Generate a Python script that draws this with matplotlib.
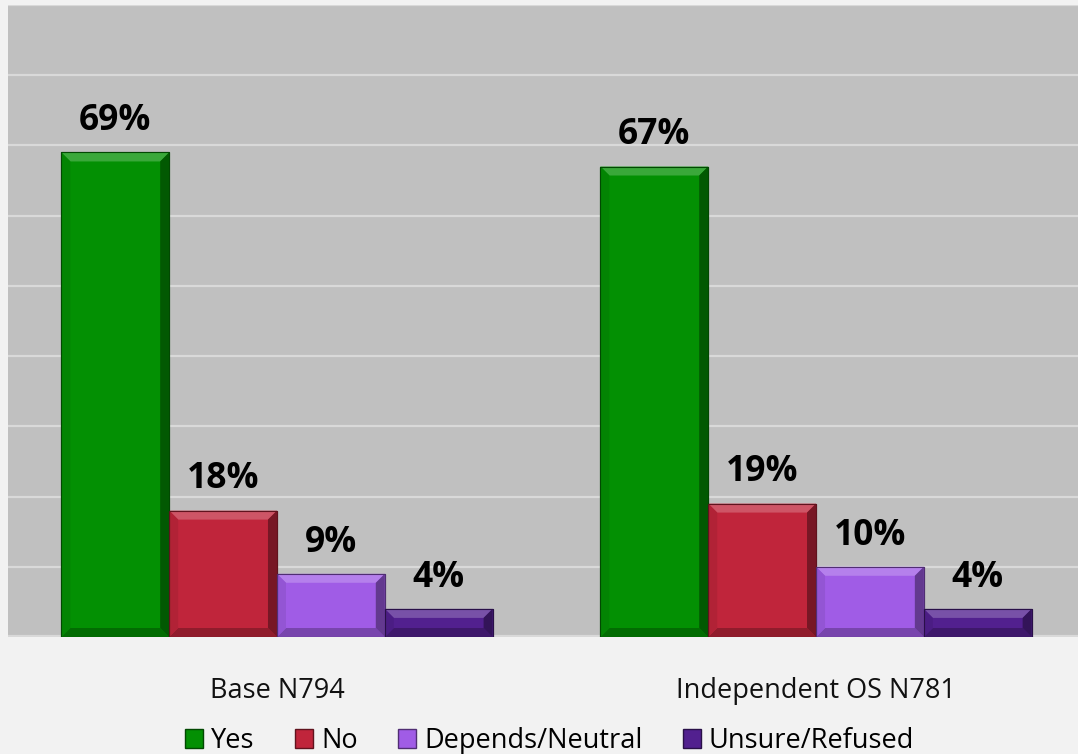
import matplotlib
matplotlib.use("Agg")
import matplotlib.pyplot as plt
from matplotlib.patches import Polygon, Rectangle
from matplotlib.colors import to_rgb
import numpy as np

plt.rcParams['font.family'] = ['Open Sans', 'DejaVu Sans']

categories = ["Base N794", "Independent OS N781"]
series_names = ["Yes", "No", "Depends/Neutral", "Unsure/Refused"]
yes_vals = [69, 67]
no_vals = [18, 19]
depends_vals = [9, 10]
unsure_vals = [4, 4]
series_values = [yes_vals, no_vals, depends_vals, unsure_vals]
colors = ["#039003", "#c0253b", "#a05ce6", "#52208f"]

W, H, DPI = 1078, 754, 100
fig = plt.figure(figsize=(W / DPI, H / DPI), dpi=DPI, facecolor="#f2f2f2")
ax_l, ax_b = 8 / W, (H - 637) / H
ax_w, ax_h = 1 - ax_l, (637 - 5) / H
ax = fig.add_axes([ax_l, ax_b, ax_w, ax_h])
ax.set_facecolor("#c0c0c0")
xlim = (-0.499, 1.486)
ylim = (0, 90)
ax.set_xlim(*xlim)
ax.set_ylim(*ylim)

for s in ax.spines.values():
    s.set_visible(False)
ax.set_yticks(np.arange(10, 91, 10))
ax.yaxis.grid(True, color="#d9d9d9", linewidth=1.6)
ax.set_axisbelow(True)
ax.tick_params(axis="y", left=False, labelleft=False)
ax.axhline(0, color="#d9d9d9", linewidth=3, zorder=1)

px_x = ax_w * W / (xlim[1] - xlim[0])
px_y = ax_h * H / (ylim[1] - ylim[0])
bev = 9.0
dx, dy = bev / px_x, bev / px_y


def mix(c, other, t):
    c = np.array(to_rgb(c)); o = np.array(to_rgb(other))
    return tuple(c * (1 - t) + o * t)


x = np.arange(len(categories))
bw = 0.2
for i, (name, vals, col) in enumerate(zip(series_names, series_values, colors)):
    pos = x + (i - 1.5) * bw
    bars = ax.bar(pos, vals, width=bw, color=col, edgecolor=mix(col, "black", 0.5),
                  linewidth=0.8, label=name, zorder=3)
    for b, v in zip(bars, vals):
        x0, y0 = b.get_x(), b.get_y()
        x1, y1 = x0 + b.get_width(), y0 + b.get_height()
        ddy = min(dy, (y1 - y0) / 2.2)
        polys = [
            ([(x0, y1), (x1, y1), (x1 - dx, y1 - ddy), (x0 + dx, y1 - ddy)], mix(col, "white", 0.22)),
            ([(x0, y0), (x1, y0), (x1 - dx, y0 + ddy), (x0 + dx, y0 + ddy)], mix(col, "black", 0.25)),
            ([(x1, y0), (x1, y1), (x1 - dx, y1 - ddy), (x1 - dx, y0 + ddy)], mix(col, "black", 0.38)),
            ([(x0, y0), (x0, y1), (x0 + dx, y1 - ddy), (x0 + dx, y0 + ddy)], mix(col, "black", 0.08)),
        ]
        for pts, c in polys:
            ax.add_patch(Polygon(pts, closed=True, facecolor=c, edgecolor="none", zorder=4))
        ax.add_patch(Rectangle((x0, y0), x1 - x0, y1 - y0, facecolor="none",
                               edgecolor=mix(col, "black", 0.5), linewidth=0.8, zorder=5))
        ax.annotate(f"{v}%", xy=(b.get_x() + b.get_width() / 2, y1), xytext=(0, 16),
                    textcoords="offset points", ha="center", va="baseline",
                    fontsize=25.5, fontweight="bold", color="black", zorder=6)

ax.set_xticks(x)
ax.set_xticklabels(categories, fontsize=19.5, color="#111111")
ax.tick_params(axis="x", bottom=False, pad=25)

handles = [Rectangle((0, 0), 1, 1, facecolor=c, edgecolor=mix(c, "black", 0.5)) for c in colors]
fig.legend(handles, series_names, loc="center", bbox_to_anchor=(0.51, (H - 741) / H),
           ncol=4, frameon=False, fontsize=19.5, handlelength=0.65, handleheight=0.65,
           handletextpad=0.3, columnspacing=1.5)

fig.savefig("out.png", dpi=DPI, facecolor=fig.get_facecolor())
